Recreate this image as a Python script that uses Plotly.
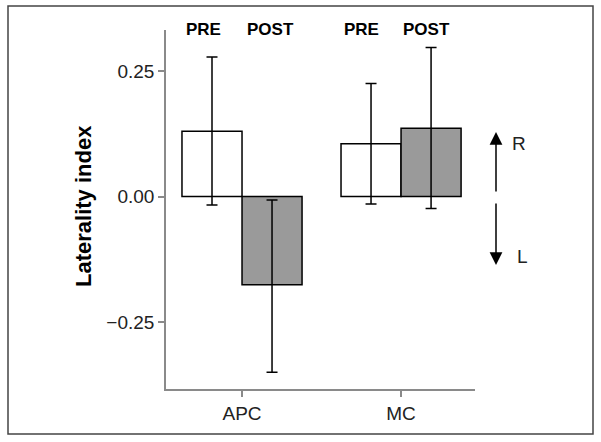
import plotly.graph_objects as go

regions = ["APC", "MC"]
pre_vals = [0.130, 0.105]
pre_err_up = [0.148, 0.120]
pre_err_down = [0.147, 0.120]
post_vals = [-0.176, 0.136]
post_err_up = [0.169, 0.161]
post_err_down = [0.174, 0.160]
y_ticks = [-0.25, 0.0, 0.25]
y_tick_labels = ["\u22120.25", "0.00", "0.25"]
series_labels = ["PRE", "POST"]

W, H = 601, 442
L, R, T, B = 166, 126, 30, 53
pw, ph = W - L - R, H - T - B

def px(x):
    return (x - L) / pw

def py(y):
    return (H - B - y) / ph

FONT = "Liberation Sans, Arial, sans-serif"

fig = go.Figure()
fig.add_trace(go.Bar(
    x=regions, y=pre_vals, name="PRE",
    marker=dict(color="white", line=dict(color="black", width=1.5)),
    error_y=dict(type="data", symmetric=False, array=pre_err_up, arrayminus=pre_err_down,
                 color="black", thickness=1.5, width=5.5),
))
fig.add_trace(go.Bar(
    x=regions, y=post_vals, name="POST",
    marker=dict(color="#9a9a9a", line=dict(color="black", width=1.5)),
    error_y=dict(type="data", symmetric=False, array=post_err_up, arrayminus=post_err_down,
                 color="black", thickness=1.5, width=5.5),
))

fig.update_layout(
    width=W, height=H,
    margin=dict(l=L, r=R, t=T, b=B, pad=0),
    paper_bgcolor="white", plot_bgcolor="white",
    barmode="group", bargap=0.245, bargroupgap=0,
    showlegend=False,
    font=dict(family=FONT, size=19, color="#222"),
    xaxis=dict(type="category", range=[-0.478, 1.465], showline=True, linecolor="#8a8a8a",
               linewidth=1.5, ticks="outside", ticklen=6, tickcolor="#8a8a8a", tickwidth=1.5,
               showgrid=False, zeroline=False, tickfont=dict(size=19, color="#222")),
    yaxis=dict(range=[-0.3835, 0.3317], showline=True, linecolor="#8a8a8a", linewidth=1.5,
               ticks="outside", ticklen=6, tickcolor="#8a8a8a", tickwidth=1.5,
               tickvals=y_ticks, ticktext=y_tick_labels, showgrid=False, zeroline=False,
               tickfont=dict(size=19, color="#222")),
)

annotations = []
# PRE/POST labels
label_px = [203, 270, 361, 426]
label_text = series_labels + series_labels
for xp, t in zip(label_px, label_text):
    annotations.append(dict(x=px(xp), y=py(29), xref="paper", yref="paper", text="<b>%s</b>" % t,
                            showarrow=False, font=dict(size=17, color="black", family=FONT),
                            xanchor="center", yanchor="middle"))
# y title
annotations.append(dict(x=px(83), y=py(206), xref="paper", yref="paper", text="<b>Laterality index</b>",
                        textangle=-90, showarrow=False, font=dict(size=22, color="black", family=FONT),
                        xanchor="center", yanchor="middle"))
# arrows
annotations.append(dict(x=px(496), y=py(132), xref="paper", yref="paper", ax=0, ay=61,
                        axref="pixel", ayref="pixel", text="", showarrow=True, arrowhead=2,
                        arrowsize=1.7, arrowwidth=1.5, arrowcolor="black"))
annotations.append(dict(x=px(496), y=py(265), xref="paper", yref="paper", ax=0, ay=-63,
                        axref="pixel", ayref="pixel", text="", showarrow=True, arrowhead=2,
                        arrowsize=1.7, arrowwidth=1.5, arrowcolor="black"))
annotations.append(dict(x=px(519), y=py(143), xref="paper", yref="paper", text="R", showarrow=False,
                        font=dict(size=19, color="#222", family=FONT), xanchor="center", yanchor="middle"))
annotations.append(dict(x=px(522), y=py(256), xref="paper", yref="paper", text="L", showarrow=False,
                        font=dict(size=19, color="#222", family=FONT), xanchor="center", yanchor="middle"))
fig.update_layout(annotations=annotations)

fig.add_shape(type="rect", xref="paper", yref="paper", x0=px(8), x1=px(593), y0=py(434), y1=py(6),
              line=dict(color="#444", width=1.5), fillcolor="rgba(0,0,0,0)", layer="above")

fig.write_html("out.html", config={"displayModeBar": False},
               post_script="document.body.style.margin='0';document.body.style.padding='0';")
